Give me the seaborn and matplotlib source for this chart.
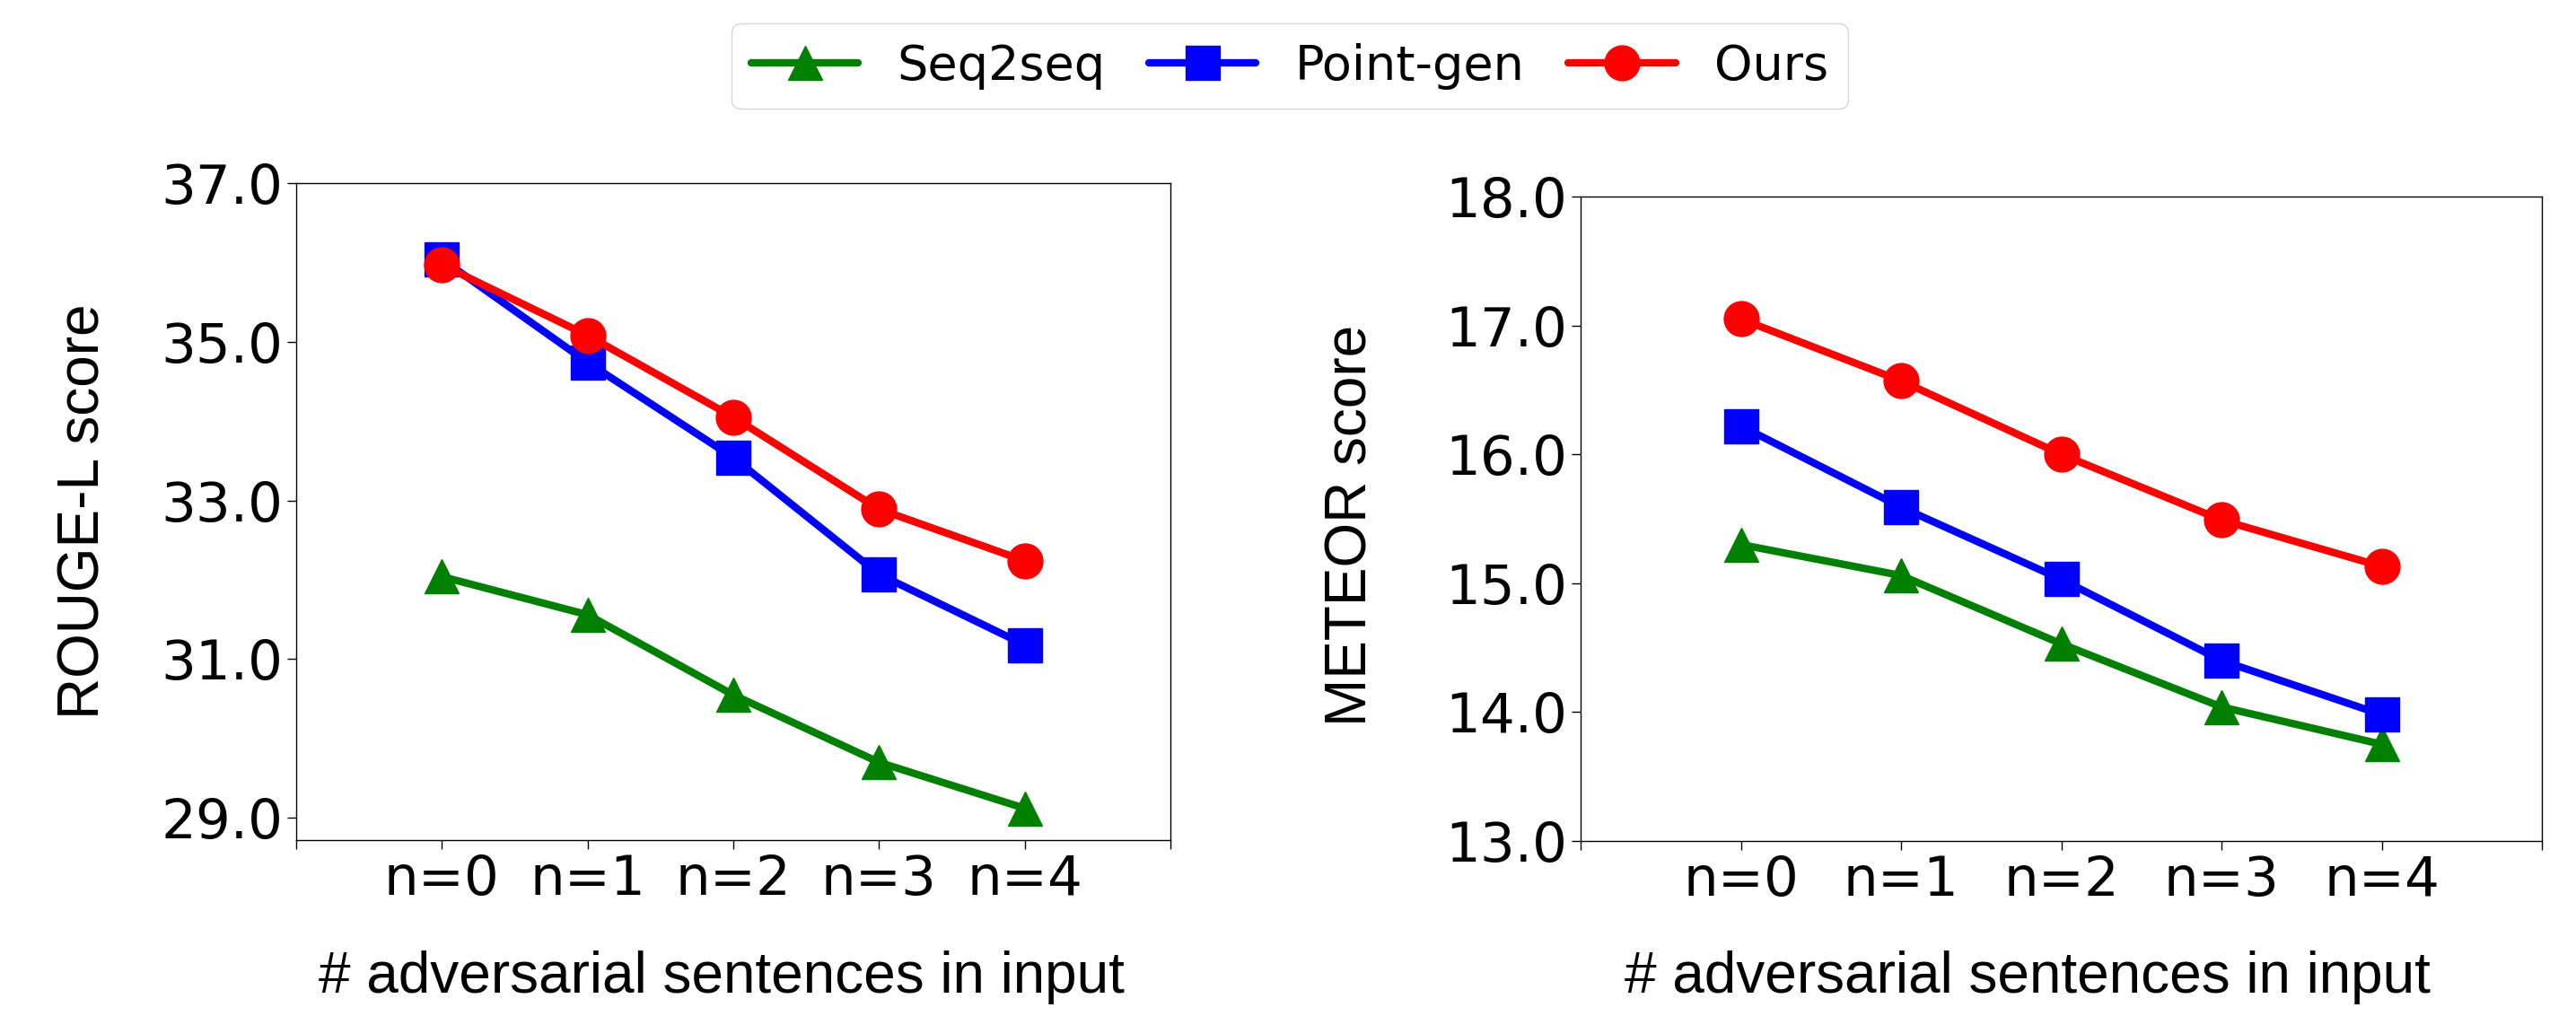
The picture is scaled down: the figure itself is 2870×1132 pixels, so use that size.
import matplotlib
matplotlib.use("Agg")
import matplotlib.pyplot as plt
import seaborn as sns

# ---- data ----
x_positions = [0, 1, 2, 3, 4]
x_tick_labels = ["n=0", "n=1", "n=2", "n=3", "n=4"]
models = ["Seq2seq", "Point-gen", "Ours"]

rouge_seq2seq = [32.04, 31.56, 30.55, 29.70, 29.12]
rouge_pointgen = [36.04, 34.74, 33.54, 32.07, 31.18]
rouge_ours = [35.97, 35.08, 34.05, 32.89, 32.24]

meteor_seq2seq = [15.30, 15.06, 14.53, 14.04, 13.75]
meteor_pointgen = [16.22, 15.59, 15.03, 14.40, 13.98]
meteor_ours = [17.05, 16.57, 16.00, 15.49, 15.13]

rouge_ticks = [29.0, 31.0, 33.0, 35.0, 37.0]
meteor_ticks = [13.0, 14.0, 15.0, 16.0, 17.0, 18.0]

# ---- style ----
sns.set_style("ticks")
plt.rcParams["font.family"] = ["DejaVu Sans"]
for key in ["text.color", "axes.labelcolor", "xtick.color", "ytick.color",
            "axes.edgecolor"]:
    plt.rcParams[key] = "black"

colors = {"Seq2seq": "green", "Point-gen": "blue", "Ours": "red"}
markers = {"Seq2seq": "^", "Point-gen": "s", "Ours": "o"}

W, H = 2870, 1132
fig = plt.figure(figsize=(W / 100, H / 100), dpi=100)

def frac(x0, y0, x1, y1):
    return [x0 / W, 1 - y1 / H, (x1 - x0) / W, (y1 - y0) / H]

ax1 = fig.add_axes(frac(330, 204, 1304, 936))
ax2 = fig.add_axes(frac(1761, 219, 2832, 937))

panels = [
    (ax1, [rouge_seq2seq, rouge_pointgen, rouge_ours], "ROUGE-L score",
     (28.72, 37.0), rouge_ticks),
    (ax2, [meteor_seq2seq, meteor_pointgen, meteor_ours], "METEOR score",
     (13.0, 18.0), meteor_ticks),
]

for ax, series, ylabel, ylim, yticks in panels:
    for name, vals in zip(models, series):
        sns.lineplot(x=x_positions, y=vals, ax=ax, color=colors[name],
                     marker=markers[name], markersize=28, linewidth=6,
                     markeredgecolor=colors[name], markeredgewidth=1,
                     label=name, sort=False)
    ax.set_xlim(-1, 5)
    ax.set_ylim(*ylim)
    ax.set_xticks(list(range(-1, 6)))
    ax.set_xticklabels([""] + x_tick_labels + [""])
    ax.set_yticks(yticks)
    ax.set_yticklabels([f"{v:.1f}" for v in yticks])
    ax.tick_params(axis="both", labelsize=44, length=7, width=1, pad=3.5,
                   color="black", labelcolor="black")
    for sp in ax.spines.values():
        sp.set_visible(True)
        sp.set_linewidth(1.0)
        sp.set_color("black")
    ax.set_ylabel(ylabel, fontsize=46, fontfamily="Liberation Sans",
                  color="black")
    ax.set_xlabel("# adversarial sentences in input", fontsize=46,
                  fontfamily="Liberation Sans", color="black")
    leg = ax.get_legend()
    if leg is not None:
        leg.remove()

ax1.yaxis.set_label_coords(-0.2125, 0.5)
ax2.yaxis.set_label_coords(-0.211, 0.49)
ax1.xaxis.set_label_coords(0.4867, -0.168)
ax2.xaxis.set_label_coords(0.465, -0.170)

handles, labels = ax1.get_legend_handles_labels()
leg = fig.legend(handles, labels, loc="upper center",
                 bbox_to_anchor=(1437 / W, 1 - 26 / H), ncol=3, fontsize=39,
                 handlelength=2.2, columnspacing=0.9, handletextpad=0.8,
                 frameon=True, borderaxespad=0)
for t in leg.get_texts():
    t.set_color("black")

fig.savefig("out.png", dpi=100)
